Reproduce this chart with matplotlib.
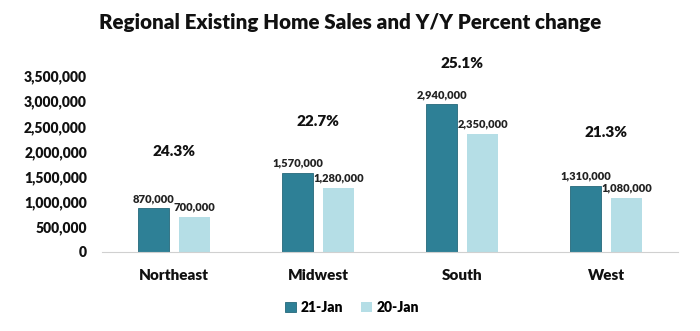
import matplotlib
matplotlib.use("Agg")
import matplotlib.pyplot as plt
import numpy as np

regions = ["Northeast", "Midwest", "South", "West"]
sales_21 = [870000, 1570000, 2940000, 1310000]
sales_20 = [700000, 1280000, 2350000, 1080000]
pct_change = ["24.3%", "22.7%", "25.1%", "21.3%"]
pct_y = [2000000, 2590000, 3760000, 2370000]  # where the % labels sit

dark = "#2E8096"
light = "#B5DEE6"

plt.rcParams["font.family"] = ["Lato", "DejaVu Sans"]
plt.rcParams["font.weight"] = "bold"

fig = plt.figure(figsize=(7, 3.31), dpi=100)
ax = fig.add_axes([0.146, 0.239, 0.823, 0.531])

x = np.arange(len(regions))
w = 0.215
off = 0.142
b1 = ax.bar(x - off, sales_21, w, color=dark, edgecolor="#25687a", linewidth=0.6, label="21-Jan")
b2 = ax.bar(x + off, sales_20, w, color=light, label="20-Jan")

for bars in (b1, b2):
    for r in bars:
        ax.annotate(f"{int(r.get_height()):,}", (r.get_x() + r.get_width() / 2, r.get_height()),
                    xytext=(0, 3), textcoords="offset points", ha="center", va="bottom",
                    fontsize=8, fontweight="heavy", color="#222222")

for i, p in enumerate(pct_change):
    ax.text(x[i], pct_y[i], p, ha="center", va="center", fontsize=11,
            fontweight="heavy", color="#111111", clip_on=False)

ax.set_xlim(-0.5, len(regions) - 0.5)
ax.set_ylim(0, 3500000)
ax.set_yticks(np.arange(0, 3500001, 500000))
ax.yaxis.set_major_formatter(matplotlib.ticker.FuncFormatter(lambda v, _: f"{int(v):,}"))
ax.set_xticks(x)
ax.set_xticklabels(regions)
ax.tick_params(axis="y", length=0, labelsize=10, pad=11)
ax.tick_params(axis="x", length=0, labelsize=11, pad=12)
for lab in ax.get_xticklabels() + ax.get_yticklabels():
    lab.set_fontweight("heavy")
    lab.set_color("#111111")

for s in ("top", "right", "left"):
    ax.spines[s].set_visible(False)
ax.spines["bottom"].set_color("#d0d0d0")

fig.suptitle("Regional Existing Home Sales and Y/Y Percent change", x=0.5, y=0.962,
             fontsize=14.8, fontweight="heavy", color="#111111")

fig.legend(loc="center", bbox_to_anchor=(0.503, 0.072), ncol=2, frameon=False,
           prop={"size": 10, "weight": "heavy"}, handlelength=0.8, handleheight=0.8,
           columnspacing=1.3, handletextpad=0.3)

fig.savefig("out.png", dpi=100, facecolor="white")
